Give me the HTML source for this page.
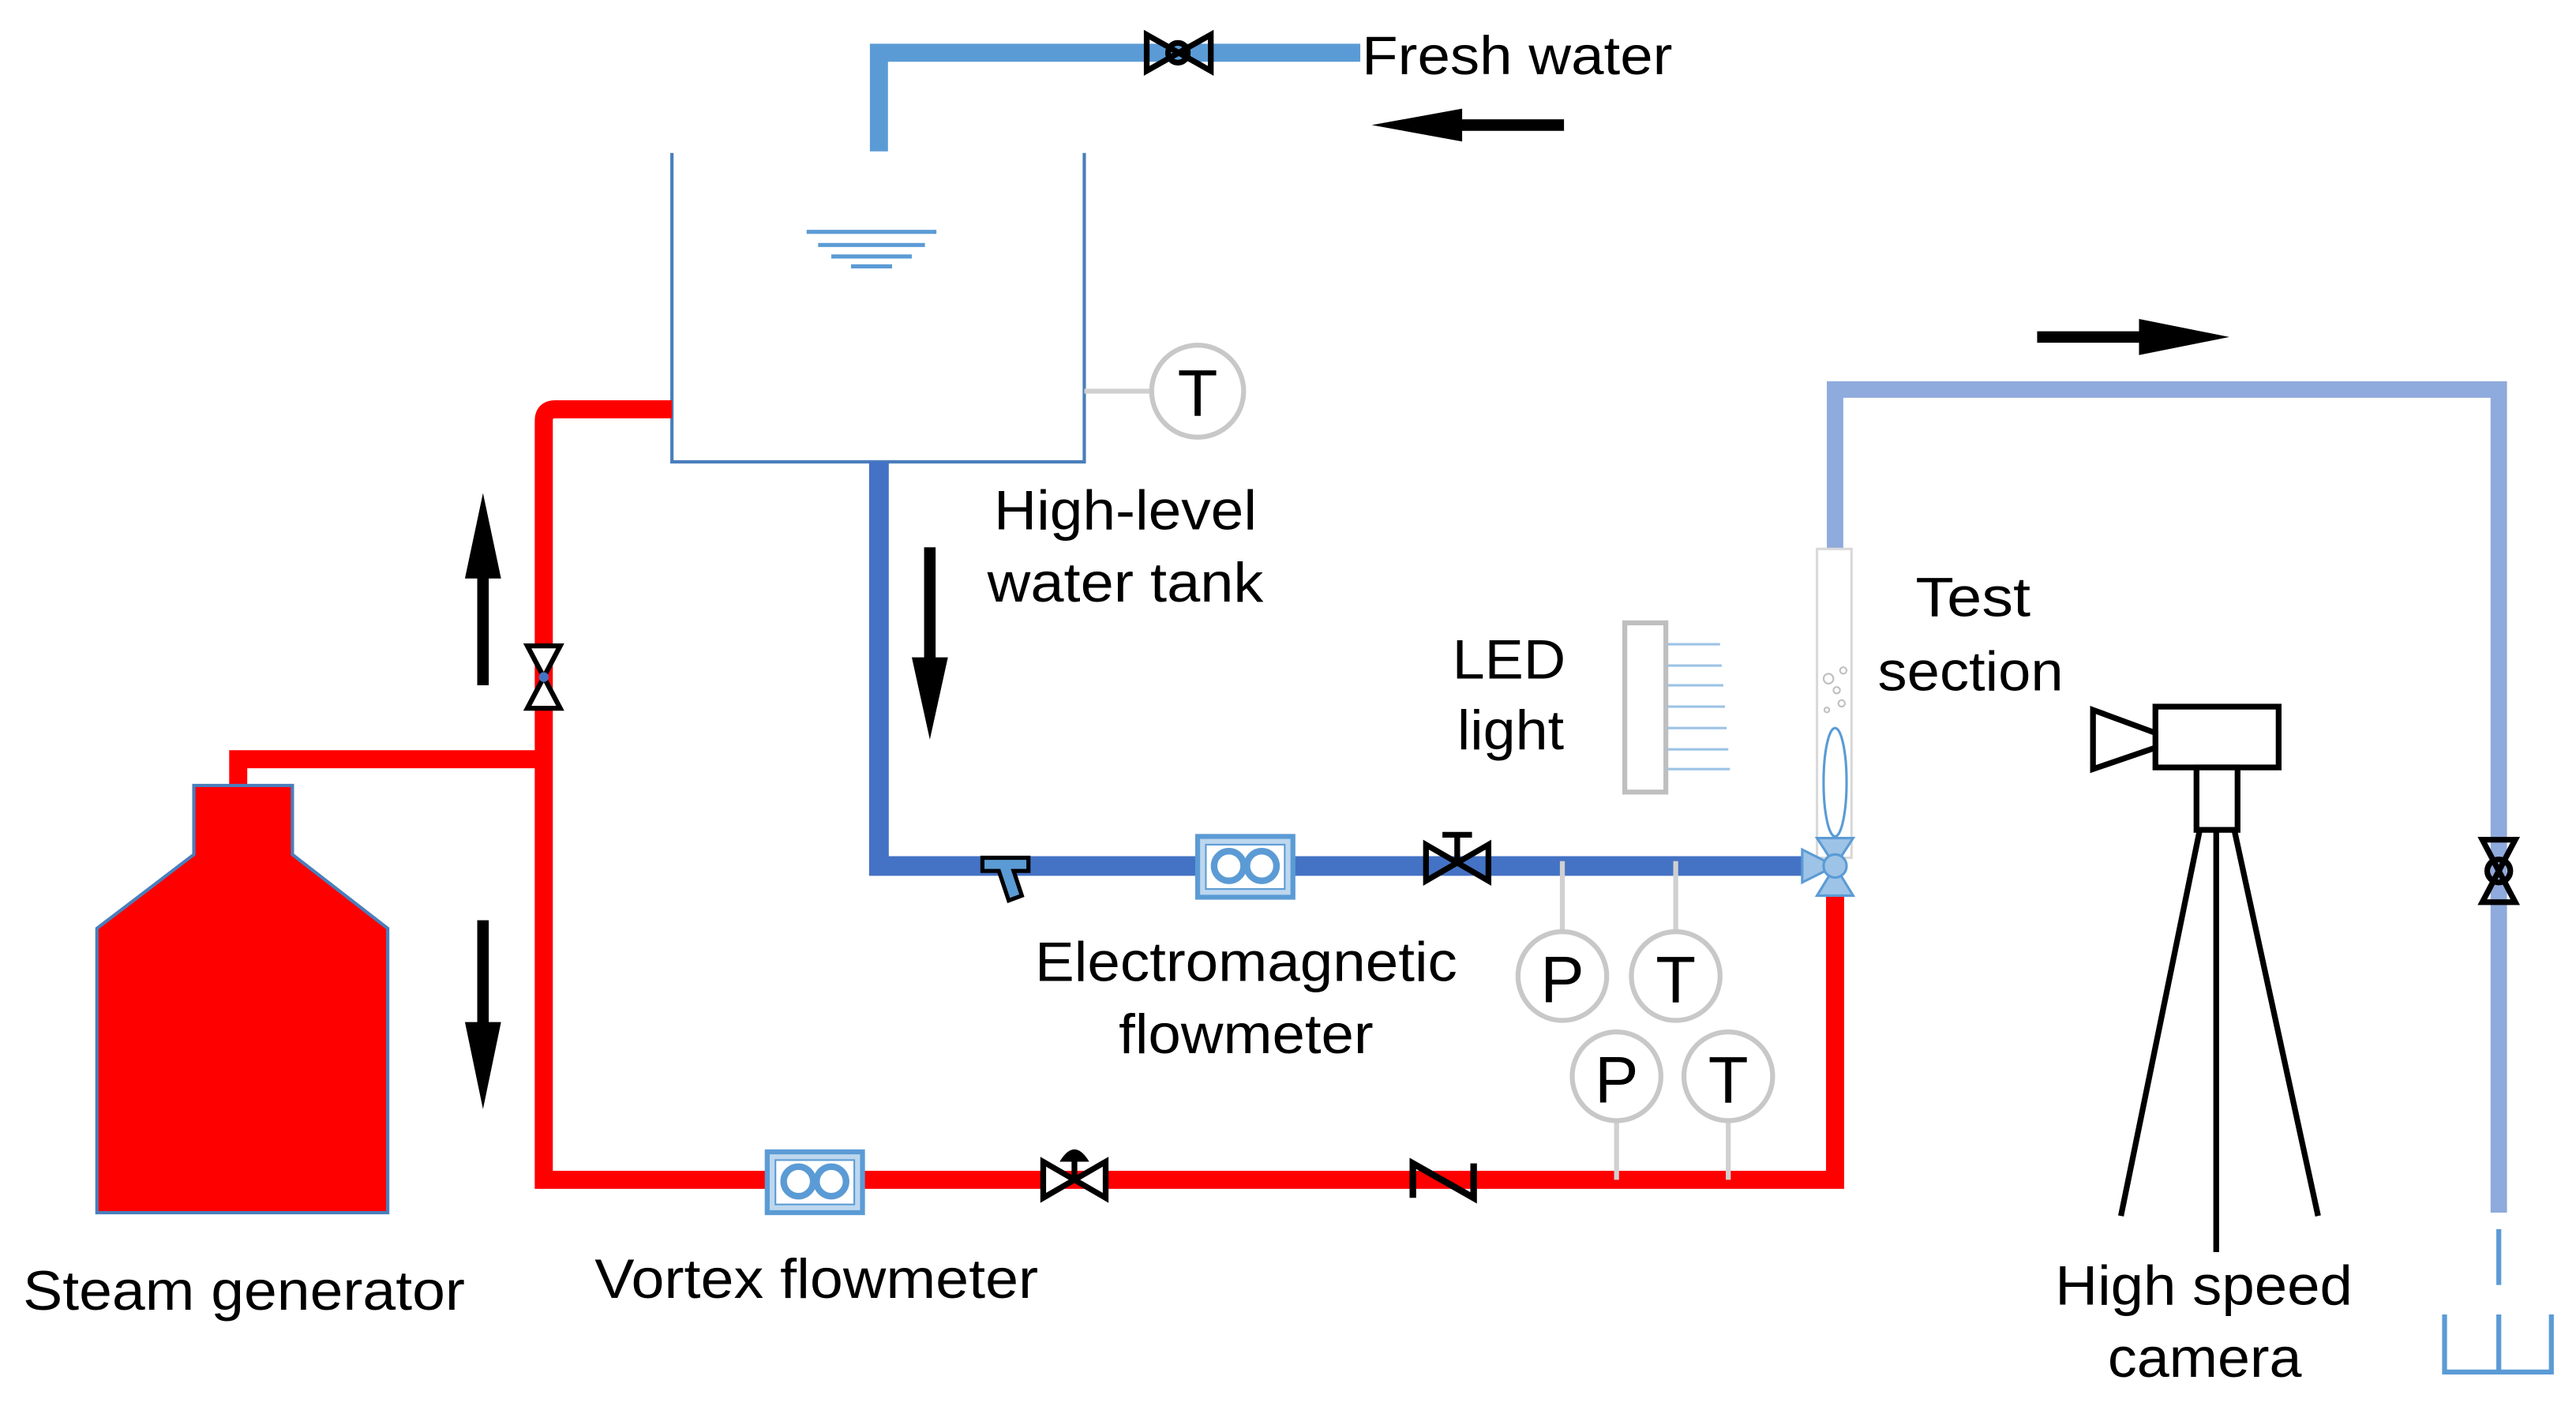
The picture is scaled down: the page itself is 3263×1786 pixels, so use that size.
<!DOCTYPE html>
<html><head><meta charset="utf-8"><style>html,body{margin:0;padding:0;background:#fff}svg{display:block}text{font-family:"Liberation Sans",Arial,sans-serif;fill:#000}</style></head>
<body>
<svg width="3263" height="1786" viewBox="0 0 1568 858" xmlns="http://www.w3.org/2000/svg">
<polyline points="535,92 535,32 828,32" fill="none" stroke="#5b9bd5" stroke-width="11"/>
<g stroke="#000" stroke-width="3.5" fill="none"><path d="M698,21 L698,43 L737,21 L737,43 Z"/><circle cx="717" cy="32" r="6"/></g>
<text x="829" y="45" font-size="33" textLength="189" lengthAdjust="spacingAndGlyphs">Fresh water</text>
<line x1="952" y1="76" x2="870" y2="76" stroke="#000" stroke-width="7"/><polygon points="835,76 890,66 890,86" fill="#000"/>
<polyline points="409,93 409,281 660,281 660,93" fill="none" stroke="#4a7ebb" stroke-width="2"/>
<g stroke="#5b9bd5" stroke-width="2.5"><line x1="491" y1="141" x2="570" y2="141"/><line x1="498" y1="149" x2="563" y2="149"/><line x1="506" y1="156" x2="555" y2="156"/><line x1="518" y1="162" x2="543" y2="162"/></g>
<line x1="660" y1="238" x2="701" y2="238" stroke="#d0d0d0" stroke-width="3"/>
<circle cx="729" cy="238" r="28" fill="#fff" stroke="#c8c8c8" stroke-width="3"/><text x="729" y="253" font-size="40" text-anchor="middle">T</text>
<text x="605" y="322" font-size="34" textLength="160" lengthAdjust="spacingAndGlyphs">High-level</text>
<text x="601" y="366" font-size="34" textLength="168" lengthAdjust="spacingAndGlyphs">water tank</text>
<polyline points="535,281 535,527 1105,527" fill="none" stroke="#4472c4" stroke-width="12"/>
<line x1="566" y1="333" x2="566" y2="410" stroke="#000" stroke-width="7"/><polygon points="566,450 555,400 577,400" fill="#000"/>
<path d="M409,249 L338,249 Q331,249 331,256 L331,718 L1117,718 L1117,540" fill="none" stroke="#ff0000" stroke-width="11"/>
<polyline points="331,462 145,462 145,480" fill="none" stroke="#ff0000" stroke-width="11"/>
<g stroke="#000" stroke-width="3" fill="#fff"><path d="M321,393 L341,393 L321,431 L341,431 Z"/></g><circle cx="331" cy="412" r="3" fill="#4472c4"/>
<line x1="294" y1="417" x2="294" y2="340" stroke="#000" stroke-width="7"/><polygon points="294,300 283,352 305,352" fill="#000"/>
<line x1="294" y1="560" x2="294" y2="630" stroke="#000" stroke-width="7"/><polygon points="294,675 283,622 305,622" fill="#000"/>
<polygon points="118,478 178,478 178,520 236,565 236,738 59,738 59,565 118,520" fill="#ff0000" stroke="#4a7ebb" stroke-width="2"/>
<text x="14" y="797" font-size="34" textLength="269" lengthAdjust="spacingAndGlyphs">Steam generator</text>
<rect x="467" y="701" width="58" height="37" fill="#bdd7ee" stroke="#5b9bd5" stroke-width="3"/>
<rect x="472" y="706" width="48" height="27" fill="#fff" stroke="#5b9bd5" stroke-width="1"/>
<circle cx="486" cy="719" r="9" fill="none" stroke="#5b9bd5" stroke-width="4"/><circle cx="506" cy="719" r="9" fill="none" stroke="#5b9bd5" stroke-width="4"/>
<text x="362" y="790" font-size="34" textLength="270" lengthAdjust="spacingAndGlyphs">Vortex flowmeter</text>
<g stroke="#000" stroke-width="3.5" fill="#fff"><path d="M635,707 L635,729 L673,707 L673,729 Z"/><line x1="654" y1="718" x2="654" y2="706"/></g>
<path d="M645,707 Q654,692 663,707 Z" fill="#000"/>
<polyline points="860,729 860,708 897,729 897,708" fill="none" stroke="#000" stroke-width="4"/>
<rect x="729" y="509" width="58" height="37" fill="#bdd7ee" stroke="#5b9bd5" stroke-width="3"/>
<rect x="734" y="514" width="48" height="27" fill="#fff" stroke="#5b9bd5" stroke-width="1"/>
<circle cx="748" cy="527" r="9" fill="none" stroke="#5b9bd5" stroke-width="4"/><circle cx="768" cy="527" r="9" fill="none" stroke="#5b9bd5" stroke-width="4"/>
<text x="630" y="597" font-size="34" textLength="257" lengthAdjust="spacingAndGlyphs">Electromagnetic</text>
<text x="681" y="641" font-size="34" textLength="155" lengthAdjust="spacingAndGlyphs">flowmeter</text>
<path d="M598,522 L626,522 L626,530 L617,530 L622,545 L614,548 L608,530 L598,530 Z" fill="#5b9bd5" stroke="#000" stroke-width="2.5"/>
<g stroke="#000" stroke-width="3.5" fill="none"><path d="M868,514 L868,536 L906,514 L906,536 Z"/><line x1="887" y1="525" x2="887" y2="508"/><line x1="878" y1="508" x2="896" y2="508"/></g>
<g stroke="#d0d0d0" stroke-width="3"><line x1="951" y1="524" x2="951" y2="567"/><line x1="1020" y1="524" x2="1020" y2="567"/><line x1="984" y1="682" x2="984" y2="718"/><line x1="1052" y1="682" x2="1052" y2="718"/></g>
<g fill="#fff" stroke="#c8c8c8" stroke-width="3"><circle cx="951" cy="594" r="27"/><circle cx="1020" cy="594" r="27"/><circle cx="984" cy="655" r="27"/><circle cx="1052" cy="655" r="27"/></g>
<g font-size="40" text-anchor="middle"><text x="951" y="610">P</text><text x="1020" y="610">T</text><text x="984" y="671">P</text><text x="1052" y="671">T</text></g>
<rect x="989" y="379" width="25" height="103" fill="#fff" stroke="#bfbfbf" stroke-width="3"/>
<g stroke="#9dc3e6" stroke-width="1.5"><line x1="1015" y1="392" x2="1047" y2="392"/><line x1="1015" y1="405" x2="1048" y2="405"/><line x1="1015" y1="417" x2="1049" y2="417"/><line x1="1015" y1="430" x2="1050" y2="430"/><line x1="1015" y1="443" x2="1051" y2="443"/><line x1="1015" y1="456" x2="1052" y2="456"/><line x1="1015" y1="468" x2="1053" y2="468"/></g>
<text x="884" y="413" font-size="34" textLength="69" lengthAdjust="spacingAndGlyphs">LED</text>
<text x="887" y="456" font-size="34" textLength="65" lengthAdjust="spacingAndGlyphs">light</text>
<polyline points="1117,335 1117,237 1521,237 1521,738" fill="none" stroke="#8faadc" stroke-width="10"/>
<g stroke="#000" stroke-width="3.5" fill="none"><path d="M1511,511 L1531,511 L1511,549 L1531,549 Z"/><circle cx="1521" cy="530" r="7"/></g>
<line x1="1521" y1="748" x2="1521" y2="782" stroke="#5b9bd5" stroke-width="3"/>
<polyline points="1488,800 1488,835 1553,835 1553,800" fill="none" stroke="#5b9bd5" stroke-width="3"/><line x1="1521" y1="800" x2="1521" y2="835" stroke="#5b9bd5" stroke-width="3"/>
<line x1="1240" y1="205" x2="1310" y2="205" stroke="#000" stroke-width="7"/><polygon points="1357,205 1302,194 1302,216" fill="#000"/>
<rect x="1106" y="334" width="21" height="188" fill="#fff" stroke="#d9d9d9" stroke-width="1.5"/>
<ellipse cx="1117" cy="476" rx="7" ry="33" fill="none" stroke="#5b9bd5" stroke-width="1.5"/>
<g fill="none" stroke="#bfbfbf" stroke-width="1"><circle cx="1113" cy="413" r="3"/><circle cx="1122" cy="408" r="2"/><circle cx="1118" cy="420" r="2"/><circle cx="1121" cy="428" r="2"/><circle cx="1112" cy="432" r="1.5"/></g>
<g fill="#9dc3e6" stroke="#5b9bd5" stroke-width="1.5"><polygon points="1106,510 1128,510 1117,527"/><polygon points="1106,545 1128,545 1117,527"/><polygon points="1097,517 1097,537 1117,527"/><circle cx="1117" cy="527" r="7"/></g>
<text x="1166" y="375" font-size="34" textLength="70" lengthAdjust="spacingAndGlyphs">Test</text>
<text x="1143" y="420" font-size="34" textLength="113" lengthAdjust="spacingAndGlyphs">section</text>
<g stroke="#000" stroke-width="3.5" fill="#fff"><rect x="1312" y="430" width="75" height="37"/><polygon points="1274,432 1312,446 1312,455 1274,468"/><rect x="1337" y="467" width="25" height="38"/></g>
<g stroke="#000" stroke-width="3.5"><line x1="1339" y1="505" x2="1291" y2="740"/><line x1="1360" y1="505" x2="1411" y2="740"/><line x1="1349" y1="505" x2="1349" y2="762"/></g>
<text x="1251" y="794" font-size="34" textLength="181" lengthAdjust="spacingAndGlyphs">High speed</text>
<text x="1283" y="838" font-size="34" textLength="118" lengthAdjust="spacingAndGlyphs">camera</text>
</svg>
</body></html>
